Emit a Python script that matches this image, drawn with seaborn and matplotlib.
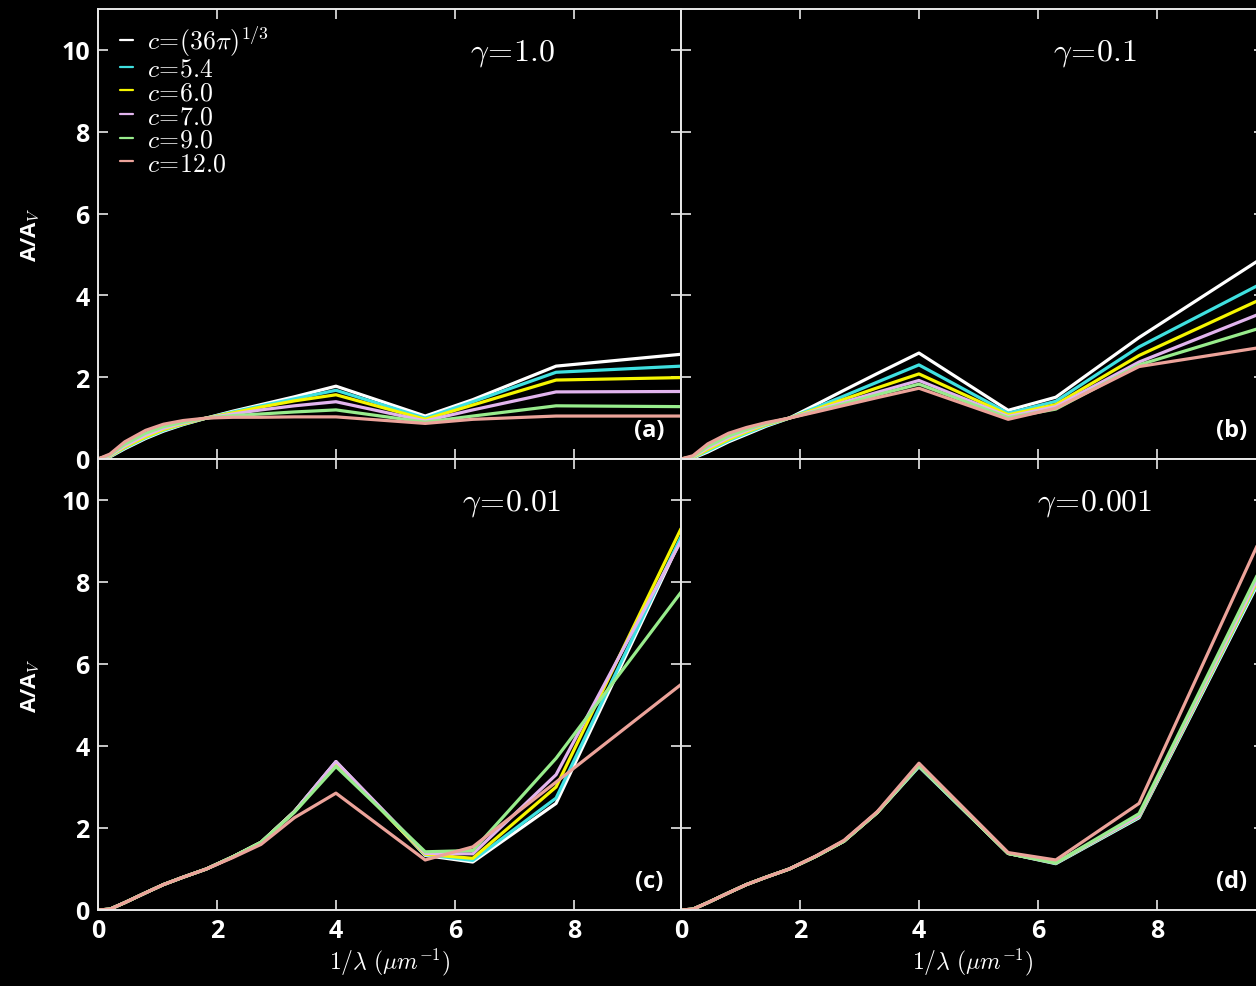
import numpy as np
import pandas as pd
import matplotlib
matplotlib.use("Agg")
import matplotlib.pyplot as plt
import seaborn as sns

# Inverse wavelength grid (1/micron)
inv_wavelength = [0.0, 0.2, 0.45, 0.8, 1.1, 1.43, 1.82, 2.27, 2.74, 3.3, 4.0, 5.5, 6.3, 7.7, 9.8]

series_labels = [r"$c\!=\!(36\pi)^{1/3}$", r"$c\!=\!5.4$", r"$c\!=\!6.0$",
                 r"$c\!=\!7.0$", r"$c\!=\!9.0$", r"$c\!=\!12.0$"]
series_colors = ["#ffffff", "#3fe0e0", "#f5f500", "#e2b4ee", "#98ec8c", "#eca39a"]

gamma_labels = [r"$\gamma\!=\!1.0$", r"$\gamma\!=\!0.1$", r"$\gamma\!=\!0.01$", r"$\gamma\!=\!0.001$"]
panel_tags = ["(a)", "(b)", "(c)", "(d)"]

# A/A_V for each shape parameter c, one row per series
ext_gamma_1 = [
    [0, 0.05, 0.25, 0.50, 0.68, 0.84, 1.0, 1.17, 1.33, 1.52, 1.78, 1.05, 1.45, 2.27, 2.56],
    [0, 0.06, 0.27, 0.52, 0.70, 0.85, 1.0, 1.15, 1.30, 1.47, 1.68, 1.00, 1.40, 2.12, 2.27],
    [0, 0.07, 0.29, 0.54, 0.72, 0.86, 1.0, 1.13, 1.27, 1.42, 1.57, 0.97, 1.32, 1.93, 1.99],
    [0, 0.08, 0.32, 0.58, 0.75, 0.88, 1.0, 1.10, 1.20, 1.30, 1.40, 0.93, 1.20, 1.64, 1.65],
    [0, 0.10, 0.36, 0.63, 0.79, 0.90, 1.0, 1.06, 1.10, 1.15, 1.20, 0.90, 1.05, 1.30, 1.28],
    [0, 0.12, 0.42, 0.70, 0.85, 0.94, 1.0, 1.02, 1.02, 1.03, 1.03, 0.87, 0.97, 1.05, 1.05],
]
ext_gamma_01 = [
    [0, 0.02, 0.17, 0.42, 0.60, 0.80, 1.0, 1.33, 1.68, 2.09, 2.59, 1.19, 1.51, 2.97, 4.94],
    [0, 0.03, 0.20, 0.45, 0.63, 0.82, 1.0, 1.26, 1.54, 1.88, 2.30, 1.12, 1.41, 2.74, 4.32],
    [0, 0.04, 0.23, 0.48, 0.66, 0.84, 1.0, 1.22, 1.46, 1.74, 2.08, 1.08, 1.33, 2.53, 3.94],
    [0, 0.05, 0.27, 0.52, 0.69, 0.86, 1.0, 1.19, 1.39, 1.63, 1.92, 1.04, 1.28, 2.37, 3.59],
    [0, 0.06, 0.31, 0.56, 0.72, 0.87, 1.0, 1.17, 1.35, 1.57, 1.83, 1.01, 1.22, 2.30, 3.23],
    [0, 0.08, 0.37, 0.63, 0.77, 0.89, 1.0, 1.15, 1.31, 1.50, 1.73, 0.97, 1.24, 2.26, 2.74],
]
ext_gamma_001 = [
    [0, 0.02, 0.18, 0.42, 0.62, 0.80, 1.0, 1.30, 1.65, 2.40, 3.62, 1.33, 1.17, 2.60, 9.05],
    [0, 0.02, 0.18, 0.42, 0.62, 0.80, 1.0, 1.30, 1.65, 2.40, 3.60, 1.35, 1.21, 2.73, 9.10],
    [0, 0.02, 0.18, 0.42, 0.62, 0.80, 1.0, 1.30, 1.65, 2.40, 3.57, 1.36, 1.26, 3.00, 9.30],
    [0, 0.02, 0.18, 0.42, 0.62, 0.80, 1.0, 1.30, 1.65, 2.40, 3.62, 1.38, 1.37, 3.30, 9.00],
    [0, 0.02, 0.18, 0.42, 0.62, 0.80, 1.0, 1.30, 1.65, 2.38, 3.50, 1.42, 1.45, 3.70, 7.75],
    [0, 0.02, 0.18, 0.42, 0.62, 0.80, 1.0, 1.28, 1.60, 2.25, 2.85, 1.22, 1.54, 3.12, 5.50],
]
ext_gamma_0001 = [
    [0, 0.02, 0.18, 0.42, 0.62, 0.80, 1.0, 1.31, 1.68, 2.38, 3.50, 1.38, 1.13, 2.25, 8.25],
    [0, 0.02, 0.18, 0.42, 0.62, 0.80, 1.0, 1.31, 1.68, 2.38, 3.50, 1.38, 1.14, 2.27, 8.30],
    [0, 0.02, 0.18, 0.42, 0.62, 0.80, 1.0, 1.31, 1.68, 2.38, 3.52, 1.38, 1.15, 2.29, 8.35],
    [0, 0.02, 0.18, 0.42, 0.62, 0.80, 1.0, 1.31, 1.68, 2.38, 3.52, 1.38, 1.15, 2.30, 8.40],
    [0, 0.02, 0.18, 0.42, 0.62, 0.80, 1.0, 1.31, 1.68, 2.38, 3.53, 1.38, 1.15, 2.35, 8.50],
    [0, 0.02, 0.18, 0.42, 0.62, 0.80, 1.0, 1.32, 1.70, 2.40, 3.58, 1.40, 1.22, 2.60, 9.25],
]
panels = [ext_gamma_1, ext_gamma_01, ext_gamma_001, ext_gamma_0001]

fg = "#e8e8e8"
sns.set_theme(style="dark", rc={
    "figure.facecolor": "black", "axes.facecolor": "black",
    "axes.edgecolor": fg, "axes.linewidth": 1.4,
    "text.color": "white", "axes.labelcolor": "white",
    "xtick.color": fg, "ytick.color": fg,
    "xtick.labelcolor": "white", "ytick.labelcolor": "white",
    "axes.grid": False, "mathtext.fontset": "cm",
})
plt.rcParams["font.family"] = ["Open Sans", "DejaVu Sans"]

fig = plt.figure(figsize=(12.56, 9.87), dpi=100)
W, H = 1256.0, 987.0
x0, pw = 98 / W, 583 / W
rows = [(1 - 460 / H, 450 / H), (1 - 911 / H, 451 / H)]

for k, data in enumerate(panels):
    r, c = divmod(k, 2)
    ax = fig.add_axes([x0 + c * pw, rows[r][0], pw, rows[r][1]])
    df = pd.DataFrame({
        "x": np.tile(inv_wavelength, len(series_labels)),
        "y": np.concatenate(data),
        "series": np.repeat(series_labels, len(inv_wavelength)),
    })
    sns.lineplot(data=df, x="x", y="y", hue="series", hue_order=series_labels,
                 palette=series_colors, estimator=None, sort=False,
                 linewidth=2.3, ax=ax, legend=(k == 0))
    ax.set_xlim(0, 9.8)
    ax.set_ylim(0, 11)
    ax.set_xticks([0, 2, 4, 6, 8])
    ax.set_yticks([0, 2, 4, 6, 8, 10])
    ax.tick_params(direction="in", length=7, width=1.2, top=True, right=True,
                   bottom=True, left=True, labelsize=18, pad=6)
    for lab in ax.get_xticklabels() + ax.get_yticklabels():
        lab.set_fontweight("bold")
    if r == 0:
        ax.set_xticklabels([])
        ax.set_xlabel("")
    else:
        ax.set_xlabel(r"$1/\lambda\ (\mu m^{-1})$", fontsize=17, labelpad=2)
    if c == 1:
        ax.set_yticklabels([])
        ax.set_ylabel("")
    else:
        ax.set_ylabel(r"A/A$_V$", fontsize=16, fontweight="bold", labelpad=14)
    ax.text(0.71, 0.905, gamma_labels[k], transform=ax.transAxes, fontsize=23,
            ha="center", va="center", color="white")
    ax.text(0.945, 0.065, panel_tags[k], transform=ax.transAxes, fontsize=17,
            ha="center", va="center", color="white", fontweight="bold")
    for sp in ax.spines.values():
        sp.set_color(fg)
    if k == 0:
        leg = ax.legend(loc="upper left", bbox_to_anchor=(0.02, 0.99), frameon=False,
                        fontsize=18.5, handlelength=0.5, handletextpad=0.55,
                        labelspacing=-0.05, borderaxespad=0.0)
        for t in leg.get_texts():
            t.set_color("white")
        for h in leg.get_lines():
            h.set_linewidth(1.6)

fig.savefig("out.png", dpi=100, facecolor="black")
